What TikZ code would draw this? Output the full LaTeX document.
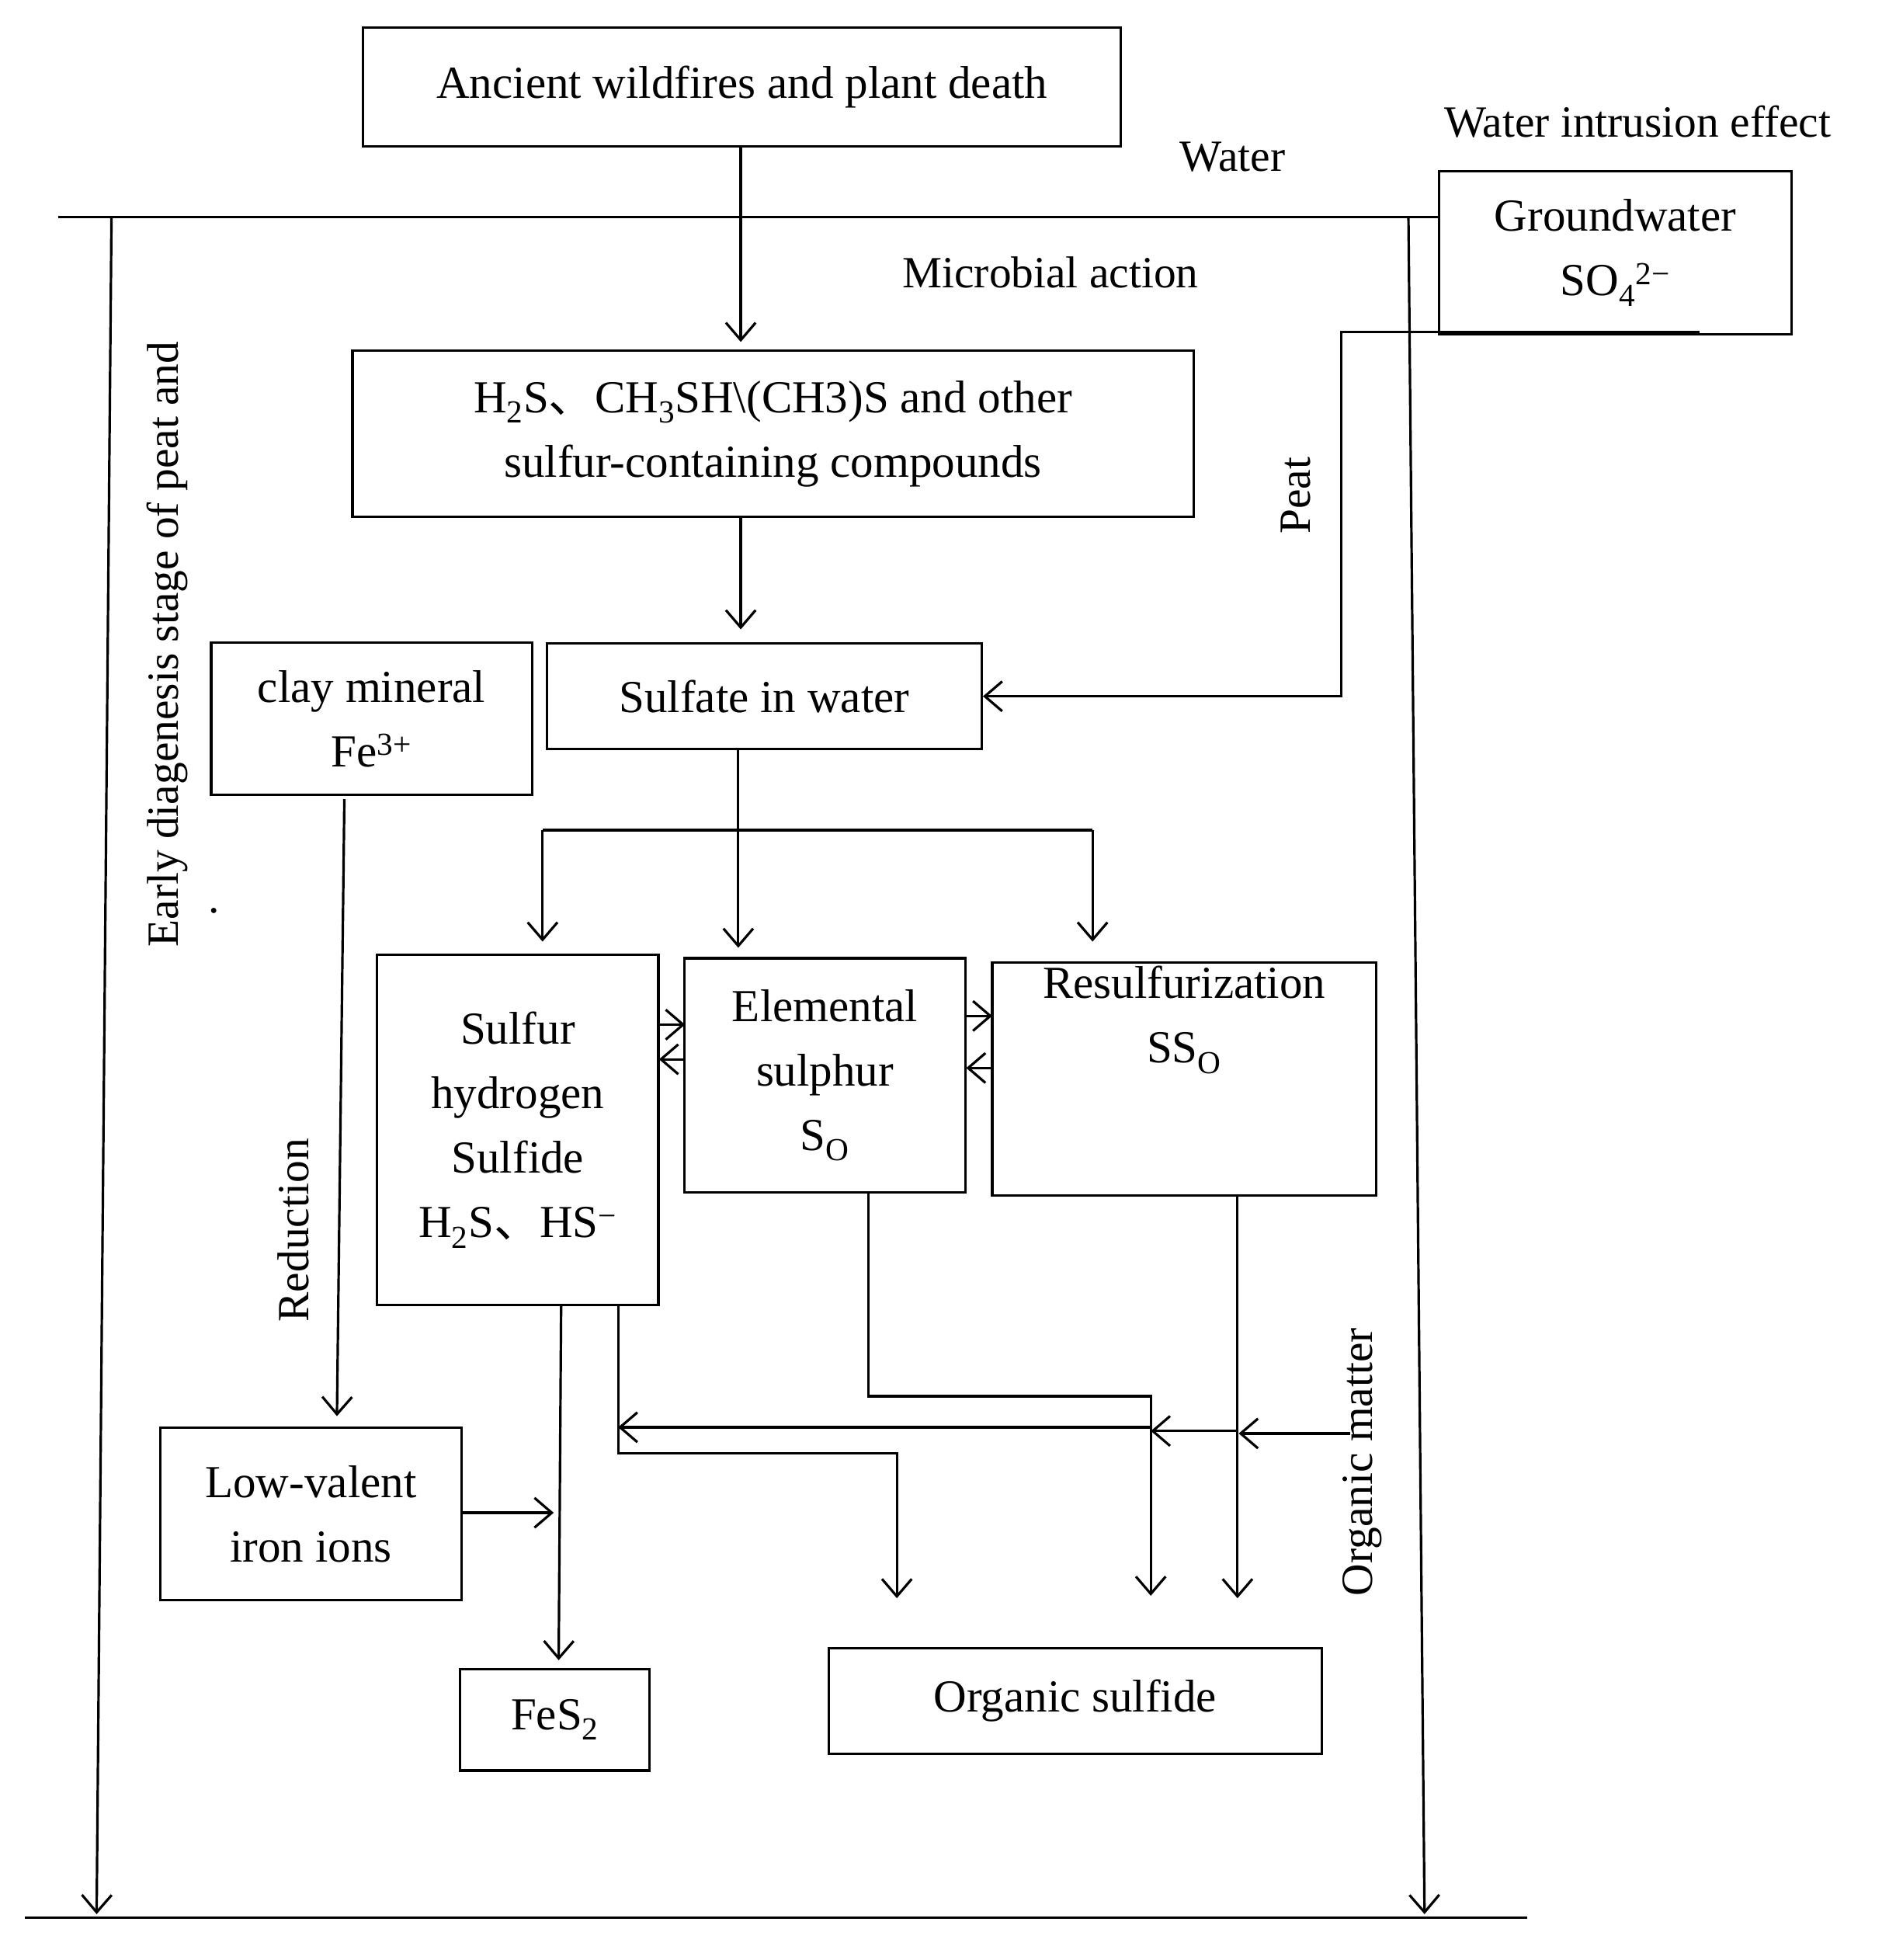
\documentclass[tikz,border=0pt]{standalone}
\usepackage{fontspec}
\setmainfont{Liberation Serif}
\newfontfamily\cjkf{Noto Sans CJK SC}
\newcommand{\dun}{{\cjkf 、}}
\usetikzlibrary{arrows.meta}
\begin{document}
\begin{tikzpicture}[x=1pt,y=-1pt,
  bx/.style={draw,line width=2pt,align=center,inner sep=0pt},
  ln/.style={line width=2pt},
  ar/.style={ln,-{Straight Barb[length=14pt,width=24pt,line width=2pt]}},
  lb/.style={inner sep=0pt,font=\fontsize{36}{44}\selectfont}]
\useasboundingbox (0,0) rectangle (1530,1582);
\fontsize{37}{52}\selectfont
\node[bx,minimum width=612,minimum height=96] (b1) at (599,70) {Ancient wildfires and plant death};
\node[bx,minimum width=285,minimum height=132] (gw) at (1304,204) {Groundwater\\SO\textsubscript{4}\textsuperscript{2\textminus}};
\node[lb] (wie) at (1322,98) {Water intrusion effect};
\node[lb] (wat) at (995,127) {Water};
\node[lb] (mic) at (848,220) {Microbial action};
\node[bx,minimum width=679,minimum height=134] (b2) at (624,350) {H\textsubscript{2}S\dun CH\textsubscript{3}SH\textbackslash(CH3)S and other\\sulfur-containing compounds};
\node[bx,minimum width=351,minimum height=85] (sw) at (617,562) {Sulfate in water};
\node[bx,minimum width=259,minimum height=123] (cl) at (300,580) {clay mineral\\Fe\textsuperscript{3+}};
\node[bx,minimum width=227,minimum height=283] (sh) at (418,912) {Sulfur\\hydrogen\\Sulfide\\H\textsubscript{2}S\dun HS\textsuperscript{\textminus}};
\node[bx,minimum width=227,minimum height=189] (es) at (666,868) {Elemental\\sulphur\\S\textsubscript{O}};
\node[bx,minimum width=310,minimum height=188,anchor=north] (rs) at (956,776) {Resulfurization\\SS\textsubscript{O}\\[52pt]};
\node[bx,minimum width=243,minimum height=139] (lv) at (251,1222) {Low-valent\\iron ions};
\node[bx,minimum width=153,minimum height=82] (fe) at (448,1388) {FeS\textsubscript{2}};
\node[bx,minimum width=398,minimum height=85] (os) at (868,1373) {Organic sulfide};
\node[lb,rotate=90] (ed) at (135,520) {Early diagenesis stage of peat and};
\node[lb] (dot) at (173,735) {.};
\node[lb,rotate=90] (pt) at (1046,400) {Peat};
\node[lb,rotate=90] (rd) at (237,993) {Reduction};
\node[lb,rotate=90] (om) at (1100,1180) {Organic matter};
% frame
\coordinate (tl) at (47,175); \coordinate (bl) at (20,1548); \coordinate (br) at (1233,1548);
\draw[ln] (tl) -- (gw.west|-tl);
\draw[ln] (bl) -- (br);
\coordinate (la) at (90,175); \coordinate (lb2) at (78,1545);
\coordinate (ra) at (1137,175); \coordinate (rb) at (1150,1545);
\draw[ar] (la) -- (lb2);
\draw[ar] (ra) -- (rb);
% flows
\coordinate (a1) at (598,276); \draw[ar] (b1.south-|a1) -- (a1);
\coordinate (a2) at (598,508); \draw[ar] (b2.south-|a2) -- (a2);
\coordinate (g1) at (1372,268); \coordinate (g2) at (1083,268);
\draw[ar] (g1) -- (g2) |- (sw.east);
\coordinate (s1) at (596,605); \coordinate (s2) at (596,765);
\draw[ar] (s1) -- (s2);
\coordinate (h1) at (438,670); \coordinate (h2) at (882,670);
\draw[ln] (h1) -- (h2);
\draw[ar] (h1) -- (438,760); \draw[ar] (h2) -- (882,760);
\coordinate (c1) at (278,645); \coordinate (c2) at (272,1143);
\draw[ar] (c1) -- (c2);
\draw[ar] (532,827) -- (553,827);
\draw[ar] (553,855) -- (532,855);
\draw[ar] (780,820) -- (801,820);
\draw[ar] (801,862) -- (780,862);
\coordinate (l1) at (447,1221); \draw[ar] (lv.east|-l1) -- (l1);
\coordinate (f1) at (453,1054); \coordinate (f2) at (451,1340);
\draw[ar] (f1) -- (f2);
\coordinate (k1) at (499,1054);
\draw[ar] (k1) -- (499,1173) -- (724,1173) -- (724,1290);
\coordinate (e1) at (701,962);
\draw[ar] (e1) -- (701,1127) -- (929,1127) -- (929,1288);
\coordinate (r1) at (999,964); \draw[ar] (r1) -- (999,1290);
\coordinate (o1) at (1090,1157);
\draw[ar] (o1) -- (1000,1157);
\draw[ar] (1000,1155) -- (929,1155);
\draw[ar] (929,1152) -- (499,1152);
\end{tikzpicture}
\end{document}
